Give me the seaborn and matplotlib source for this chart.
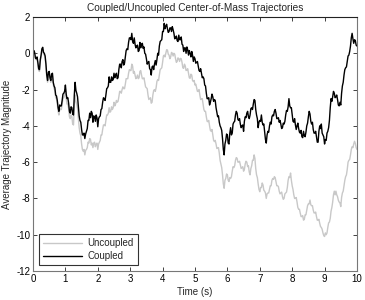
import matplotlib
matplotlib.use("Agg")
import matplotlib.pyplot as plt
import seaborn as sns
import pandas as pd
import numpy as np

sns.set_style("white")
plt.rcParams['font.family'] = ['Liberation Sans', 'DejaVu Sans']
plt.rcParams['axes.unicode_minus'] = False

# values every 0.025 s
coupled = [
    -0.15, 0.15, 0.05, -0.25, -0.3, -0.2, -0.5, -0.85, -0.9, -0.35,
    -0.1, 0.25, 0.33, 0.05, 0.0, -0.15, -0.6, -1.2, -1.5, -1.05,
    -1.0, -1.35, -1.5, -1.15, -1.1, -1.6, -1.8, -1.9, -2.3, -2.35,
    -2.6, -3.0, -3.2, -2.85, -2.9, -2.9, -2.6, -2.25, -2.2, -2.1,
    -1.75, -2.25, -2.5, -2.45, -2.75, -3.2, -3.3, -2.95, -3.0, -3.35,
    -3.4, -2.3, -1.6, -2.05, -2.2, -2.4, -2.9, -3.45, -3.7, -3.8,
    -4.2, -4.5, -4.5, -4.4, -4.7, -4.45, -4.3, -4.15, -3.7, -3.7,
    -3.3, -3.55, -3.2, -3.3, -3.8, -3.45, -3.5, -3.75, -3.4, -3.55,
    -4.05, -3.6, -3.5, -3.45, -3.1, -3.05, -2.7, -2.45, -2.5, -2.6,
    -2.3, -1.95, -1.9, -1.8, -1.3, -1.6, -1.6, -1.3, -1.5, -1.45,
    -1.1, -1.35, -1.2, -1.1, -1.4, -1.35, -0.9, -0.6, -0.6, -0.8,
    -0.45, -0.35, -0.65, -0.55, -0.2, 0.15, 0.25, 0.2, 0.6, 0.85,
    0.85, 0.75, 1.1, 0.65, 0.55, 0.85, 0.5, 0.3, 0.4, 0.45,
    0.1, 0.15, 0.6, 0.3, 0.5, 0.55, 0.27, 0.35, 0.0, -0.05,
    -0.3, -0.6, -0.5, -0.45, -0.85, -0.9, -1.2, -0.75, -0.7, -0.9,
    -0.6, -0.4, -0.65, -0.35, 0.0, -0.1, 0.4, 0.65, 0.7, 0.75,
    1.2, 1.2, 1.65, 1.35, 1.5, 1.6, 1.35, 1.15, 1.2, 1.4,
    1.4, 1.2, 1.47, 1.3, 1.1, 0.8, 0.85, 0.95, 0.7, 0.65,
    1.0, 0.75, 0.75, 0.9, 0.5, 0.45, 0.1, 0.3, 0.3, 0.0,
    0.35, 0.2, -0.1, 0.15, 0.0, -0.2, 0.1, -0.1, -0.45, -0.2,
    -0.3, -0.55, -0.5, -0.45, -0.7, -0.95, -1.0, -0.85, -1.1, -1.35,
    -1.3, -1.4, -1.75, -1.8, -2.2, -2.5, -2.5, -2.45, -2.85, -2.7,
    -2.5, -2.25, -2.4, -2.65, -2.55, -2.6, -3.0, -3.25, -3.5, -3.45,
    -3.8, -4.0, -4.1, -4.25, -4.7, -5.3, -5.6, -5.0, -4.8, -4.45,
    -4.5, -4.95, -5.0, -4.4, -4.1, -4.5, -4.4, -3.9, -3.8, -3.75,
    -3.4, -3.2, -3.3, -3.65, -3.7, -3.6, -3.9, -4.1, -4.0, -3.95,
    -4.3, -3.75, -3.5, -3.55, -3.3, -3.2, -3.5, -3.6, -3.4, -3.05,
    -3.0, -3.1, -2.8, -2.55, -2.6, -3.1, -3.4, -3.6, -4.1, -3.8,
    -3.7, -3.75, -3.4, -3.8, -3.95, -3.9, -4.3, -4.75, -4.95, -4.5,
    -4.3, -4.35, -4.0, -3.8, -3.9, -3.5, -3.4, -3.45, -3.2, -3.1,
    -3.3, -3.6, -3.6, -3.55, -3.8, -3.7, -3.9, -4.15, -4.1, -3.85,
    -3.9, -3.75, -3.4, -3.15, -3.2, -2.95, -2.5, -2.9, -3.0, -3.0,
    -3.4, -3.75, -3.8, -3.6, -3.95, -4.2, -4.0, -3.85, -4.15, -4.35,
    -4.4, -4.25, -4.6, -4.65, -4.3, -4.55, -4.6, -4.35, -4.0, -3.85,
    -3.5, -3.2, -3.35, -3.75, -3.9, -3.8, -4.2, -4.4, -4.4, -4.3,
    -4.6, -4.9, -4.9, -4.3, -4.0, -4.15, -3.9, -4.4, -4.5, -4.6,
    -5.0, -4.75, -4.8, -4.4, -4.3, -4.1, -3.7, -3.0, -2.5, -2.65,
    -2.4, -2.1, -2.2, -2.45, -2.4, -2.3, -2.55, -2.85, -2.9, -2.7,
    -2.85, -2.2, -1.8, -1.6, -1.2, -0.9, -0.8, -0.75, -0.45, -0.15,
    -0.1, 0.1, 0.4, 0.85, 1.1, 0.8, 0.55, 0.75, 0.7, 0.45,
    0.4,
]

uncoupled = [
    -0.2, 0.1, 0.0, -0.3, -0.35, -0.3, -0.6, -0.95, -1.0, -0.45,
    -0.2, 0.15, 0.25, -0.05, -0.1, -0.25, -0.7, -1.3, -1.6, -1.2,
    -1.15, -1.45, -1.6, -1.3, -1.25, -1.7, -1.95, -2.05, -2.45, -2.5,
    -2.8, -3.2, -3.4, -3.05, -3.1, -3.1, -2.8, -2.5, -2.45, -2.35,
    -2.0, -2.5, -2.8, -2.8, -3.05, -3.5, -3.6, -3.4, -3.5, -3.9,
    -3.95, -2.9, -2.3, -2.65, -2.8, -3.05, -3.6, -4.1, -4.4, -4.55,
    -5.0, -5.3, -5.4, -5.3, -5.6, -5.35, -5.3, -5.2, -4.9, -4.95,
    -4.7, -4.75, -5.05, -4.95, -5.2, -4.95, -4.9, -5.15, -5.0, -4.95,
    -5.3, -5.0, -4.9, -4.8, -4.5, -4.5, -4.2, -3.95, -3.95, -4.0,
    -3.7, -3.4, -3.4, -3.3, -3.0, -3.25, -3.2, -2.95, -3.1, -3.0,
    -2.7, -2.9, -2.8, -2.6, -2.7, -2.65, -2.4, -2.1, -2.1, -2.2,
    -2.0, -1.85, -1.95, -1.95, -1.7, -1.4, -1.4, -1.4, -1.1, -0.9,
    -0.95, -0.95, -0.6, -0.7, -1.1, -1.0, -1.2, -1.4, -1.35, -1.2,
    -1.4, -1.35, -1.0, -0.95, -1.2, -1.4, -1.4, -1.35, -1.6, -1.85,
    -1.9, -1.95, -2.3, -2.55, -2.5, -2.45, -2.75, -2.7, -2.3, -2.05,
    -2.0, -2.1, -1.9, -1.55, -1.45, -1.5, -1.2, -0.9, -0.85, -0.8,
    -0.5, -0.15, -0.1, -0.2, 0.0, 0.2, 0.18, -0.05, -0.1, -0.3,
    -0.2, 0.05, 0.0, -0.15, 0.0, -0.05, -0.3, -0.5, -0.45, -0.25,
    -0.3, -0.45, -0.28, -0.3, -0.5, -0.8, -0.83, -0.6, -0.7, -0.95,
    -0.92, -0.85, -1.1, -1.35, -1.38, -1.15, -1.2, -1.5, -1.56, -1.5,
    -1.75, -1.7, -1.9, -2.1, -2.1, -2.0, -2.3, -2.55, -2.5, -2.5,
    -2.8, -3.1, -3.2, -3.2, -3.5, -3.75, -3.77, -3.7, -4.0, -4.25,
    -4.3, -4.2, -4.5, -4.8, -4.87, -4.8, -5.0, -5.25, -5.23, -5.2,
    -5.5, -5.9, -6.1, -6.3, -6.7, -7.2, -7.44, -7.0, -6.9, -6.65,
    -6.7, -7.0, -7.07, -6.85, -6.9, -6.8, -6.5, -6.25, -6.3, -6.2,
    -5.9, -5.75, -5.79, -6.0, -6.0, -5.95, -6.16, -6.35, -6.3, -6.25,
    -6.5, -6.4, -6.1, -5.95, -6.0, -6.25, -6.2, -6.55, -6.7, -6.35,
    -6.2, -5.9, -5.9, -5.6, -5.8, -6.35, -6.7, -6.85, -7.2, -7.5,
    -7.63, -7.4, -7.4, -7.15, -7.26, -7.55, -7.6, -7.7, -8.0, -7.75,
    -7.7, -7.7, -7.5, -7.3, -7.3, -7.0, -6.9, -6.95, -6.8, -6.85,
    -7.07, -7.3, -7.3, -7.35, -7.6, -7.75, -7.7, -7.65, -7.9, -8.05,
    -8.0, -7.75, -7.7, -7.65, -7.4, -7.0, -6.8, -6.85, -6.6, -7.0,
    -7.3, -7.5, -7.8, -8.0, -8.0, -7.95, -8.2, -8.5, -8.6, -8.6,
    -8.82, -9.0, -9.0, -8.95, -9.2, -9.15, -8.9, -8.9, -8.64, -8.4,
    -8.3, -8.3, -8.09, -8.35, -8.4, -8.4, -8.64, -8.8, -8.8, -8.75,
    -9.0, -9.2, -9.2, -9.15, -9.37, -9.55, -9.6, -9.7, -9.9, -10.05,
    -10.1, -9.9, -10.0, -9.9, -9.6, -9.35, -9.3, -9.1, -8.7, -8.5,
    -8.2, -7.8, -7.6, -7.8, -7.6, -7.8, -7.9, -8.1, -8.2, -8.25,
    -8.45, -7.95, -7.7, -7.6, -7.3, -7.0, -6.8, -6.7, -6.4, -6.0,
    -5.9, -5.85, -5.6, -5.3, -5.15, -5.2, -5.0, -4.85, -4.97, -5.2,
    -5.3,
]

x_ticks = [0, 1, 2, 3, 4, 5, 6, 7, 8, 9, 10]
y_ticks = [-12, -10, -8, -6, -4, -2, 0, 2]

df_u = pd.DataFrame({"t": np.linspace(0, 10, len(uncoupled)), "v": uncoupled})
df_c = pd.DataFrame({"t": np.linspace(0, 10, len(coupled)), "v": coupled})

fig = plt.figure(figsize=(3.65, 3.0), dpi=100)
ax = fig.add_axes([0.0904, 0.0967, 0.8876, 0.8466])

sns.lineplot(data=df_u, x="t", y="v", ax=ax, color="#c8c8c8",
             linewidth=1.0, estimator=None, label="Uncoupled")
sns.lineplot(data=df_c, x="t", y="v", ax=ax, color="black",
             linewidth=1.0, estimator=None, label="Coupled")

ax.set_xlim(0, 10)
ax.set_ylim(-12, 2)
ax.set_xticks(x_ticks)
ax.set_yticks(y_ticks)
ax.tick_params(direction="in", length=3, width=0.6, labelsize=7,
               top=True, right=True, bottom=True, left=True, pad=2,
               colors="#222222", labelcolor="black")
for side, sp in ax.spines.items():
    sp.set_visible(True)
    sp.set_linewidth(0.8)
    sp.set_color("#222222" if side == "top" else "#777777")

ax.set_title("Coupled/Uncoupled Center-of-Mass Trajectories", fontsize=7.3, pad=4)
ax.set_xlabel("Time (s)", fontsize=7, labelpad=2)
ax.set_ylabel("Average Trajectory Magnitude", fontsize=7, labelpad=3)

leg = ax.legend(loc="lower left", fontsize=7, frameon=True, fancybox=False,
                handlelength=4.0, borderaxespad=0.6, borderpad=0.4,
                labelspacing=0.3, handletextpad=0.6)
leg.get_frame().set_edgecolor("black")
leg.get_frame().set_linewidth(0.8)

fig.savefig("out.png", dpi=100)
